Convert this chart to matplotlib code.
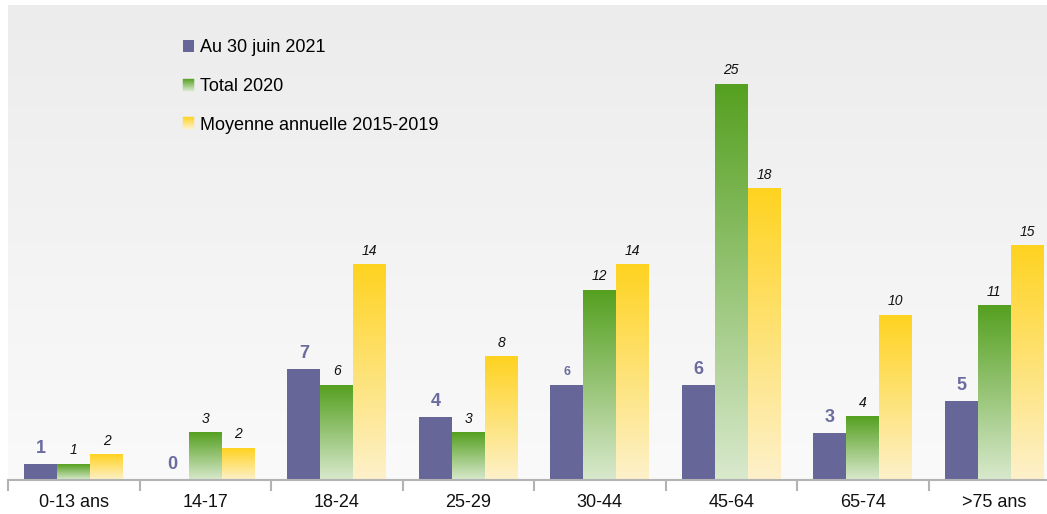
import numpy as np
import matplotlib.pyplot as plt
from matplotlib.colors import LinearSegmentedColormap
from matplotlib.patches import Rectangle
from matplotlib.legend_handler import HandlerBase

plt.rcParams['font.family'] = ['Liberation Sans', 'DejaVu Sans']

categories = ['0-13 ans', '14-17', '18-24', '25-29', '30-44', '45-64', '65-74', '>75 ans']
juin2021 = [1, 0, 7, 4, 6, 6, 3, 5]
total2020 = [1, 3, 6, 3, 12, 25, 4, 11]
moyenne = [1.6, 2.0, 13.6, 7.8, 13.6, 18.4, 10.4, 14.8]
series_names = ['Au 30 juin 2021', 'Total 2020', 'Moyenne annuelle 2015-2019']

purple = '#666699'
green_cm = LinearSegmentedColormap.from_list('g', ['#d9e9cd', '#55a020'])
yellow_cm = LinearSegmentedColormap.from_list('y', ['#fdf1cb', '#ffd320'])
bg_cm = LinearSegmentedColormap.from_list('bg', ['#fafafa', '#ececec'])

fig = plt.figure(figsize=(10.47, 5.14), dpi=100)
ax = fig.add_axes([8/1047, 34/514, 1052/1047, 475/514])
ax.set_xlim(-0.5, 7.5)
ax.set_ylim(0, 30)

grad = np.linspace(0, 1, 256).reshape(-1, 1)
ax.imshow(grad, extent=[0, 1, 0, 1], transform=ax.transAxes, cmap=bg_cm,
          origin='lower', aspect='auto', zorder=0)

x = np.arange(len(categories))
w = 0.25

ax.bar(x - w, juin2021, w, color=purple, zorder=2)

def grad_bars(xs, vals, cmap):
    bars = ax.bar(xs, vals, w, color='none', zorder=2)
    for b in bars:
        h = b.get_height()
        if h <= 0:
            continue
        x0 = b.get_x()
        ax.imshow(grad, extent=[x0, x0 + w, 0, h], cmap=cmap, origin='lower',
                  aspect='auto', zorder=2)
    return bars

grad_bars(x, total2020, green_cm)
grad_bars(x + w, moyenne, yellow_cm)

for i in range(len(categories)):
    fs = 9 if i == 4 else 13
    ax.annotate('%d' % juin2021[i], (x[i] - w, juin2021[i]), xytext=(0, 5),
                textcoords='offset points', ha='center', va='bottom',
                fontsize=fs, fontweight='bold', color='#6b6b9f', zorder=3)
    ax.annotate('%d' % total2020[i], (x[i], total2020[i]), xytext=(0, 5),
                textcoords='offset points', ha='center', va='bottom',
                fontsize=10, style='italic', color='#111111', zorder=3)
    ax.annotate('%.0f' % moyenne[i], (x[i] + w, moyenne[i]), xytext=(0, 5),
                textcoords='offset points', ha='center', va='bottom',
                fontsize=10, style='italic', color='#111111', zorder=3)

# axes styling
for s in ['top', 'right', 'left']:
    ax.spines[s].set_visible(False)
ax.spines['bottom'].set_color('#b3b3b3')
ax.spines['bottom'].set_linewidth(1.5)
ax.set_yticks([])
ax.set_xticks(np.arange(-0.5, 8, 1))
ax.set_xticklabels([])
ax.tick_params(axis='x', which='major', length=8, width=1.5, color='#b3b3b3')
ax.set_xticks(x, minor=True)
ax.set_xticklabels(categories, minor=True, fontsize=13, color='#111111')
ax.tick_params(axis='x', which='minor', length=0, pad=10)


class GradHandler(HandlerBase):
    def __init__(self, color=None, cmap=None):
        super().__init__()
        self.color = color
        self.cmap = cmap

    def create_artists(self, legend, orig_handle, xdescent, ydescent, width,
                       height, fontsize, trans):
        size = 8.5
        x0 = width - size
        y0 = (height - size) / 2
        if self.color is not None:
            return [Rectangle((x0, y0), size, size, facecolor=self.color,
                              transform=trans)]
        n = 12
        arts = []
        for k in range(n):
            c = self.cmap(1 - (k + 0.5) / n)
            arts.append(Rectangle((x0, y0 + size - (k + 1) * size / n), size,
                                  size / n, facecolor=c, edgecolor=c, lw=0.3,
                                  transform=trans))
        return arts


handles = [Rectangle((0, 0), 1, 1) for _ in range(3)]
ax.legend(handles, series_names, loc='upper left',
          bbox_to_anchor=(152/1052, 0.962), frameon=False, fontsize=13,
          handler_map={handles[0]: GradHandler(color=purple),
                       handles[1]: GradHandler(cmap=green_cm),
                       handles[2]: GradHandler(cmap=yellow_cm)},
          handlelength=1.0, handletextpad=0.3, labelspacing=1.2)

fig.savefig('out.png', dpi=100)
